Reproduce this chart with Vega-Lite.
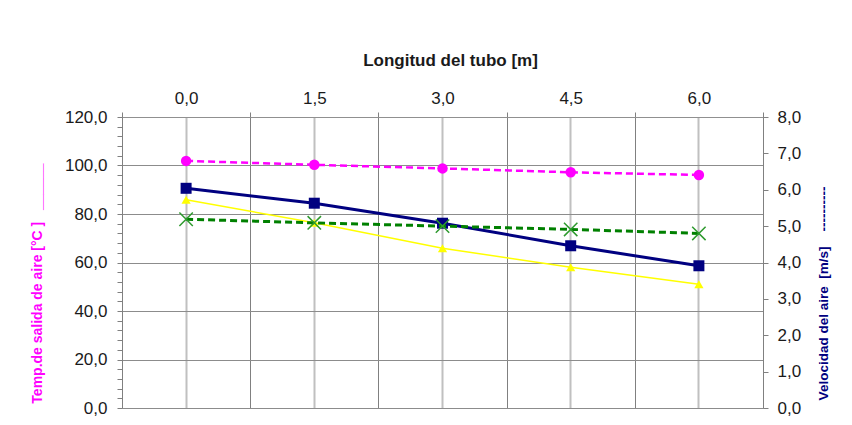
{
  "$schema": "https://vega.github.io/schema/vega-lite/v6.json",
  "width": 641,
  "height": 291,
  "autosize": "none",
  "padding": {"left": 122, "top": 117, "right": 89, "bottom": 17},
  "background": "white",
  "config": {
    "view": {"stroke": null},
    "font": "Liberation Sans",
    "axis": {"labelFont": "Liberation Sans", "titleFont": "Liberation Sans", "labelFontSize": 17, "labelColor": "#1a1a1a"}
  },
  "data": {
    "values": [
      {"longitud": "0,0", "serie": "Temp. salida aire", "valor": 101.9},
      {"longitud": "1,5", "serie": "Temp. salida aire", "valor": 100.3},
      {"longitud": "3,0", "serie": "Temp. salida aire", "valor": 98.8},
      {"longitud": "4,5", "serie": "Temp. salida aire", "valor": 97.2},
      {"longitud": "6,0", "serie": "Temp. salida aire", "valor": 96.1},
      {"longitud": "0,0", "serie": "Temp. 2", "valor": 85.9},
      {"longitud": "1,5", "serie": "Temp. 2", "valor": 76.4},
      {"longitud": "3,0", "serie": "Temp. 2", "valor": 65.9},
      {"longitud": "4,5", "serie": "Temp. 2", "valor": 58.0},
      {"longitud": "6,0", "serie": "Temp. 2", "valor": 51.0},
      {"longitud": "0,0", "serie": "Velocidad aire", "valor": 6.04},
      {"longitud": "1,5", "serie": "Velocidad aire", "valor": 5.63},
      {"longitud": "3,0", "serie": "Velocidad aire", "valor": 5.08},
      {"longitud": "4,5", "serie": "Velocidad aire", "valor": 4.46},
      {"longitud": "6,0", "serie": "Velocidad aire", "valor": 3.91},
      {"longitud": "0,0", "serie": "Velocidad 2", "valor": 5.19},
      {"longitud": "1,5", "serie": "Velocidad 2", "valor": 5.09},
      {"longitud": "3,0", "serie": "Velocidad 2", "valor": 5.0},
      {"longitud": "4,5", "serie": "Velocidad 2", "valor": 4.91},
      {"longitud": "6,0", "serie": "Velocidad 2", "valor": 4.8}
    ]
  },
  "layer": [
    {
      "encoding": {
        "x": {
          "field": "longitud", "type": "ordinal", "sort": null,
          "scale": {"type": "band", "paddingInner": 0, "paddingOuter": 0},
          "axis": {
            "orient": "top", "labelAngle": 0, "tickBand": "extent",
            "grid": true, "gridColor": "#808080", "gridWidth": 1,
            "tickColor": "#808080", "tickSize": 5, "domainColor": "#909090",
            "labelPadding": 5,
            "title": "Longitud del tubo [m]", "titleFontSize": 17, "titleFontWeight": "bold",
            "titleColor": "#1a1a1a", "titlePadding": 20, "titleX": 328
          }
        },
        "y": {
          "field": "valor", "type": "quantitative",
          "scale": {"domain": [0, 120], "nice": false},
          "axis": {
            "orient": "left",
            "values": [0, 4, 8, 12, 16, 20, 24, 28, 32, 36, 40, 44, 48, 52, 56, 60, 64, 68, 72, 76, 80, 84, 88, 92, 96, 100, 104, 108, 112, 116, 120],
            "labelExpr": "datum.value % 20 === 0 ? replace(format(datum.value, '.1f'), '.', ',') : ''",
            "labelOverlap": false,
            "grid": true, "gridColor": "#8c8c8c",
            "gridOpacity": {"condition": {"test": "datum.value % 20 === 0", "value": 1}, "value": 0},
            "tickSize": 5, "tickColor": "#808080", "domainColor": "#808080",
            "labelPadding": 10,
            "title": "Temp.de salida de aire\u00a0[°C\u00a0]\u00a0\u00a0\u00a0______",
            "titleColor": "#ff00ff", "titleFontWeight": "bold", "titleFontSize": 14,
            "titleAngle": 270, "titleX": -85, "titleY": 166,
            "titleAlign": "center", "titleBaseline": "middle"
          }
        }
      },
      "layer": [
        {
          "transform": [{"filter": "datum.serie === 'Temp. 2'"}],
          "mark": {"type": "line", "color": "#ffff00", "strokeWidth": 1.5}
        },
        {
          "transform": [{"filter": "datum.serie === 'Temp. 2'"}],
          "mark": {"type": "point", "shape": "triangle-up", "filled": true, "color": "#ffff00", "opacity": 1, "size": 85}
        },
        {
          "transform": [{"filter": "datum.serie === 'Temp. salida aire'"}],
          "mark": {"type": "line", "color": "#ff00ff", "strokeWidth": 2.5, "strokeDash": [7, 4]}
        },
        {
          "transform": [{"filter": "datum.serie === 'Temp. salida aire'"}],
          "mark": {"type": "point", "shape": "circle", "filled": true, "color": "#ff00ff", "opacity": 1, "size": 110}
        }
      ]
    },
    {
      "encoding": {
        "x": {
          "field": "longitud", "type": "ordinal", "sort": null,
          "axis": {
            "orient": "bottom", "labels": false, "ticks": false, "domain": false, "title": null,
            "grid": true, "gridColor": "#c0c0c0", "gridWidth": 2
          }
        },
        "y": {
          "field": "valor", "type": "quantitative",
          "scale": {"domain": [0, 8], "nice": false},
          "axis": {
            "orient": "right",
            "values": [0, 1, 2, 3, 4, 5, 6, 7, 8],
            "labelExpr": "replace(format(datum.value, '.1f'), '.', ',')",
            "grid": false,
            "tickSize": 5, "tickColor": "#808080", "domainColor": "#808080",
            "labelPadding": 9,
            "title": "Velocidad del aire\u00a0\u00a0[m/s]\u00a0\u00a0\u00a0\u00a0----------",
            "titleColor": "#000080", "titleFontWeight": "bold", "titleFontSize": 13.5,
            "titleAngle": 270, "titleX": 60, "titleY": 176,
            "titleAlign": "center", "titleBaseline": "middle"
          }
        }
      },
      "layer": [
        {
          "transform": [{"filter": "datum.serie === 'Velocidad aire'"}],
          "mark": {"type": "line", "color": "#000080", "strokeWidth": 3}
        },
        {
          "transform": [{"filter": "datum.serie === 'Velocidad aire'"}],
          "mark": {"type": "point", "shape": "square", "filled": true, "color": "#000080", "opacity": 1, "size": 121}
        },
        {
          "transform": [{"filter": "datum.serie === 'Velocidad 2'"}],
          "mark": {"type": "line", "color": "#008000", "strokeWidth": 3, "strokeDash": [7, 4]}
        },
        {
          "transform": [{"filter": "datum.serie === 'Velocidad 2'"}],
          "mark": {"type": "point", "shape": "M-1,-1L1,1M1,-1L-1,1", "filled": false, "color": "#2e9a2e", "opacity": 1, "strokeWidth": 1.5, "size": 180}
        }
      ]
    }
  ],
  "resolve": {"scale": {"y": "independent"}, "axis": {"x": "independent", "y": "independent"}}
}
